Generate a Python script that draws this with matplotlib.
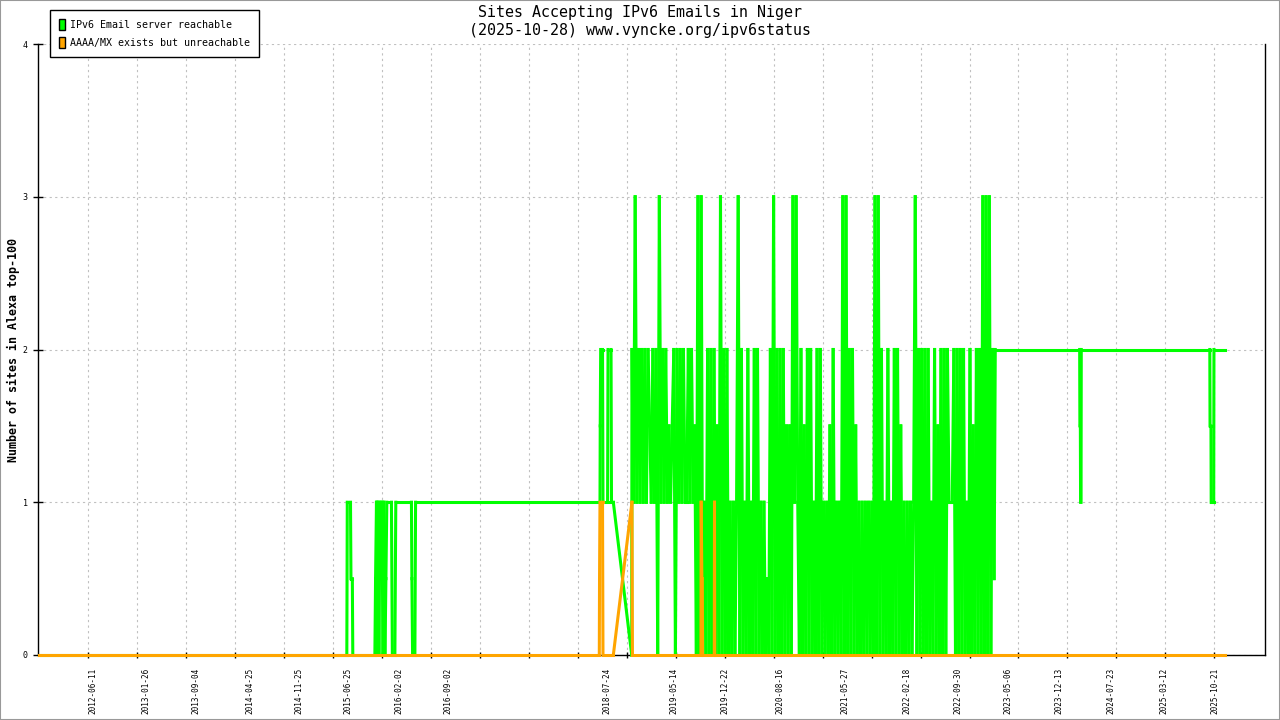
import numpy as np
import pandas as pd
import matplotlib.pyplot as plt
import matplotlib.dates as mdates
from matplotlib.collections import LineCollection
from matplotlib.patches import Patch, Rectangle

plt.rcParams['font.family'] = ['DejaVu Sans Mono']

# IPv6 Email server reachable -- sparse part before the daily noise
green_early_dates = ['2011-10-20', '2015-06-20', '2015-06-22', '2015-07-06', '2015-07-08', '2015-07-14', '2015-07-16',
                     '2015-10-20', '2015-10-23', '2015-10-27', '2015-10-30', '2015-11-02', '2015-11-07', '2015-11-11',
                     '2015-11-15', '2015-11-20', '2015-11-24', '2015-11-28', '2015-12-03', '2015-12-07', '2015-12-11',
                     '2015-12-31', '2016-01-04', '2016-01-15', '2016-01-19', '2016-03-27', '2016-03-29', '2016-04-01',
                     '2016-04-11', '2016-04-14',
                     '2018-06-25', '2018-06-26', '2018-06-28', '2018-07-06', '2018-07-08', '2018-07-28', '2018-07-30',
                     '2018-08-12', '2018-08-14', '2018-08-22', '2018-11-10']
green_early_values = [0, 0, 1, 1, 0.5, 0.5, 0,
                      0, 0.5, 1, 0, 1, 0, 1, 0.5, 1, 0, 1, 0, 0.5, 1, 1, 0, 0, 1, 1, 0.5, 0, 0, 1,
                      1, 1.5, 2, 2, 1, 1, 2, 2, 1, 1, 0]

# weekly samples from 2018-11-11, in half-site units (4 -> 2 sites, 3 -> 1.5 ...)
green_weekly_start = '2018-11-11'
green_weekly_codes = ("4262" "4242424" "32424" "062" "4242323404242422424230"
                      "606020" "40404030604040" "20202" "6040" "20" "40204040"
                      "202010" "406040" "4040" "3030" "626204030" "4040"
                      "204040" "20203" "040" "2020" "606040403" "0202020202"
                      "0606040" "20" "4020" "404030" "202020" "260404" "0"
                      "4040" "2" "040" "30" "40404" "222" "40404040" "20"
                      "40" "30" "4040" "60606041")

green_late_dates = ['2023-03-10', '2024-03-11', '2024-03-12', '2024-03-14', '2024-03-15', '2024-03-17', '2024-03-18',
                    '2025-09-28', '2025-09-29', '2025-10-03', '2025-10-04', '2025-10-15', '2025-10-16', '2025-12-03']
green_late_values = [2, 2, 1.5, 1.5, 1, 1, 2, 2, 1.5, 1.5, 1, 1, 2, 2]

# AAAA/MX exists but unreachable
orange_dates = ['2011-10-20', '2018-06-22', '2018-06-23', '2018-06-25', '2018-07-06', '2018-07-08', '2018-08-22',
                '2018-11-11', '2018-11-13', '2019-09-07', '2019-09-08', '2019-09-11', '2019-09-13', '2019-09-14',
                '2019-11-04', '2019-11-05', '2019-11-06', '2025-12-03']
orange_values = [0, 0, 0.5, 1, 1, 0, 0, 1, 0, 0, 1, 0.5, 0.5, 0, 0, 1, 0, 0]

label_dates = ['2012-06-11', '2013-01-26', '2013-09-04', '2014-04-25', '2014-11-25', '2015-06-25',
               '2016-02-02', '2016-09-02', '2018-07-24', '2019-05-14', '2019-12-22', '2020-08-16',
               '2021-05-27', '2022-02-18', '2022-09-30', '2023-05-06', '2023-12-13', '2024-07-23',
               '2025-03-12', '2025-10-21']

green_weekly_dates = pd.date_range(green_weekly_start, periods=len(green_weekly_codes), freq='7D')
green_weekly_values = [int(c) / 2 for c in green_weekly_codes]

green = pd.concat([
    pd.Series(green_early_values, index=pd.to_datetime(green_early_dates)),
    pd.Series(green_weekly_values, index=green_weekly_dates),
    pd.Series(green_late_values, index=pd.to_datetime(green_late_dates)),
])
orange = pd.Series(orange_values, index=pd.to_datetime(orange_dates))


def as_segments(series):
    # one path per step, so overlapping zig-zags don't cancel out in Agg
    x = mdates.date2num(series.index.to_pydatetime())
    pts = np.column_stack([x, series.values])
    return np.stack([pts[:-1], pts[1:]], axis=1)


fig = plt.figure(figsize=(12.8, 7.2), dpi=100)
ax = fig.add_axes([38 / 1280, 65 / 720, 1227 / 1280, 611 / 720])
ax.xaxis_date()

ax.add_collection(LineCollection(as_segments(green), colors='#00ff00', linewidths=2.2,
                                 capstyle='projecting', clip_on=False, zorder=3))
ax.add_collection(LineCollection(as_segments(orange), colors='#ffa500', linewidths=2.2,
                                 capstyle='projecting', clip_on=False, zorder=4))

ax.set_xlim(pd.Timestamp('2011-10-16'), pd.Timestamp('2026-05-26'))
ax.set_ylim(0, 4)

# evenly spaced grid ticks, date labels put where they belong
ax.set_xticks(pd.date_range('2012-05-20', periods=24, freq='213D'))
ax.set_xticklabels([])
ax.set_xticks(pd.to_datetime(label_dates), minor=True)
ax.set_xticklabels(label_dates, minor=True, rotation=90, fontsize=5.5, va='top', ha='center')
ax.tick_params(axis='x', which='major', direction='inout', length=5, width=1)
ax.tick_params(axis='x', which='minor', length=0, pad=9)

ax.set_yticks([0, 1, 2, 3, 4])
ax.tick_params(axis='y', direction='inout', length=7, width=1, labelsize=6, pad=4)

ax.grid(True, which='major', color='#c0c0c0', linestyle=(0, (2, 3)), linewidth=0.8)
ax.set_axisbelow(True)
ax.spines['top'].set_visible(False)
for side in ['left', 'bottom', 'right']:
    ax.spines[side].set_linewidth(1)

fig.text(640 / 1280, 1 - 13 / 720, 'Sites Accepting IPv6 Emails in Niger',
         ha='center', va='center', fontsize=10.8)
fig.text(640 / 1280, 1 - 31 / 720, '(2025-10-28) www.vyncke.org/ipv6status',
         ha='center', va='center', fontsize=10.8)
fig.text(13 / 1280, 1 - 350 / 720, 'Number of sites in Alexa top-100',
         rotation=90, ha='center', va='center', fontsize=8.4, fontweight='bold')

handles = [Patch(facecolor='#00ff00', edgecolor='black', label='IPv6 Email server reachable'),
           Patch(facecolor='#ffa500', edgecolor='black', label='AAAA/MX exists but unreachable')]
leg = fig.legend(handles=handles, loc='upper left', bbox_to_anchor=(50 / 1280, 1 - 10 / 720),
                 fontsize=7.2, frameon=True, fancybox=False, edgecolor='black', framealpha=1,
                 handlelength=0.6, handleheight=1.3, handletextpad=0.5, borderpad=0.9,
                 labelspacing=0.75, borderaxespad=0)
leg.get_frame().set_linewidth(1)

fig.add_artist(Rectangle((0, 0), 1, 1, transform=fig.transFigure, fill=False,
                         edgecolor='#999999', linewidth=1.5))

fig.savefig('out.png', dpi=100)
